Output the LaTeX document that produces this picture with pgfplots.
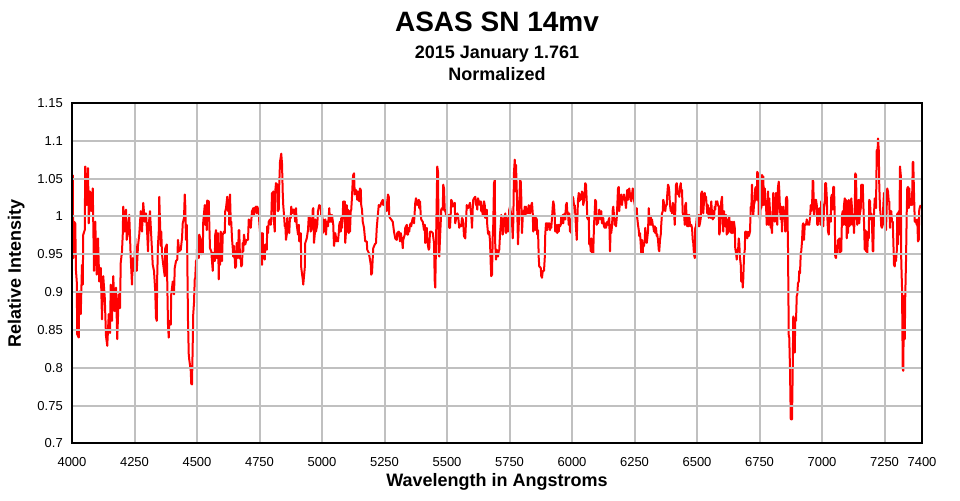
\documentclass[border=0pt]{standalone}
\usepackage{fontspec}
\setmainfont{Liberation Sans}
\usepackage{pgfplots}
\pgfplotsset{compat=1.18}
\definecolor{gridgray}{HTML}{C0C0C0}
\definecolor{specred}{HTML}{FF0000}

\begin{document}
\begin{tikzpicture}
% page size: 960 x 500 px at 0.75 pt per px
\useasboundingbox (-54pt,-42.4pt) rectangle (666pt,332.6pt);
\begin{axis}[
    scale only axis,
    width=637.5pt, height=255.4pt,
    xmin=4000, xmax=7400, ymin=0.7, ymax=1.15,
    xtick={4000,4250,4500,4750,5000,5250,5500,5750,6000,6250,6500,6750,7000,7250,7400},
    ytick={0.7,0.75,0.8,0.85,0.9,0.95,1,1.05,1.1,1.15},
    scaled x ticks=false, scaled y ticks=false,
    /pgf/number format/assume math mode=true,
    x tick label style={/pgf/number format/1000 sep={}, anchor=base, yshift=-16.9pt},
    y tick label style={/pgf/number format/.cd, fixed, precision=2, /tikz/.cd, anchor=east, inner sep=0pt, xshift=-6.75pt},
    ticklabel style={font=\fontsize{9.75pt}{11pt}\selectfont},
    major tick length=0pt,
    tick style={draw=none},
    grid=major,
    grid style={draw=gridgray, line width=1.5pt},
    axis line style={black, line width=1.5pt},
    axis on top,
    clip mode=individual,
]
\addplot[specred, line width=1.5pt, line join=round] coordinates {
(4003,1.055) (4005,0.945) (4008,0.993) (4013,0.991) (4016,0.928) (4019,0.914) (4021,0.844) (4027,0.840) (4029,0.901) (4035,0.871)
(4040,0.936) (4043,0.910) (4045,0.976) (4051,0.982) (4053,1.066) (4059,1.015) (4064,1.064) (4067,0.991) (4072,1.033) (4077,1.007)
(4083,1.037) (4085,0.993) (4088,0.928) (4093,0.993) (4099,0.923) (4104,0.971) (4109,0.914) (4115,0.932) (4120,0.864) (4125,0.921)
(4131,0.893) (4136,0.842) (4141,0.829) (4147,0.871) (4152,0.846) (4155,0.910) (4160,0.862) (4165,0.921) (4171,0.875) (4176,0.906)
(4181,0.838) (4187,0.897) (4192,0.879) (4195,0.939) (4200,0.954) (4203,0.976) (4205,1.013) (4211,0.980) (4216,1.009) (4219,0.969)
(4224,0.980) (4229,1.002) (4235,0.945) (4240,0.910) (4243,0.945) (4248,0.928) (4253,0.971) (4259,0.928) (4264,0.961) (4269,0.976)
(4275,1.007) (4280,0.980) (4285,1.018) (4291,0.993) (4296,1.004) (4301,0.976) (4304,0.954) (4307,0.989) (4312,1.007) (4317,0.974)
(4323,0.936) (4328,0.928) (4333,0.901) (4336,0.866) (4339,0.862) (4341,0.923) (4344,0.963) (4347,0.980) (4349,1.026) (4355,0.961)
(4357,0.980) (4360,0.950) (4365,0.936) (4371,0.921) (4373,0.958) (4379,0.963) (4381,0.914) (4384,0.857) (4387,0.840) (4389,0.862)
(4395,0.857) (4397,0.897) (4403,0.914) (4408,0.897) (4411,0.932) (4416,0.941) (4421,0.943) (4424,0.969) (4429,0.954) (4435,0.956)
(4440,0.971) (4443,0.991) (4448,0.998) (4451,1.029) (4453,1.015) (4456,0.969) (4459,0.989) (4461,0.950) (4464,0.862) (4467,0.818)
(4469,0.811) (4475,0.796) (4477,0.779) (4480,0.778) (4483,0.833) (4485,0.871) (4488,0.886) (4491,0.917) (4493,0.919) (4496,0.941)
(4499,0.943) (4501,0.971) (4507,0.945) (4509,0.976) (4515,0.969) (4517,0.950) (4523,0.952) (4525,0.993) (4531,1.015) (4533,0.989)
(4536,1.015) (4539,0.982) (4541,1.021) (4547,1.020) (4549,0.993) (4552,0.958) (4557,0.954) (4560,0.941) (4563,0.928) (4565,0.952)
(4571,0.941) (4573,0.976) (4576,0.982) (4579,0.945) (4581,0.967) (4584,0.978) (4587,0.917) (4589,0.954) (4592,0.936) (4595,0.980)
(4600,0.941) (4603,0.976) (4608,0.980) (4611,0.978) (4613,1.007) (4616,1.011) (4621,1.026) (4624,1.007) (4627,1.022) (4629,0.989)
(4632,1.029) (4635,0.993) (4637,0.993) (4640,0.971) (4643,0.958) (4645,0.947) (4648,0.961) (4653,0.932) (4656,0.934) (4659,0.965)
(4661,0.963) (4664,0.945) (4667,0.982) (4669,0.982) (4672,0.945) (4675,0.943) (4677,0.934) (4680,0.936) (4683,0.965) (4685,0.954)
(4688,0.976) (4693,0.963) (4696,0.967) (4699,0.969) (4704,0.969) (4707,0.996) (4712,0.993) (4715,0.985) (4720,1.007) (4723,1.009)
(4725,1.011) (4728,1.002) (4731,1.011) (4736,1.013) (4739,1.004) (4741,1.013) (4747,1.007) (4749,0.993) (4752,0.980) (4755,0.954)
(4757,0.978) (4760,0.936) (4763,0.978) (4765,0.945) (4768,0.958) (4771,0.943) (4773,0.963) (4779,0.956) (4781,0.987) (4784,0.978)
(4787,0.993) (4792,0.996) (4795,0.989) (4797,0.996) (4800,1.031) (4803,1.015) (4805,1.033) (4808,0.993) (4811,0.980) (4813,1.033)
(4816,1.044) (4821,1.042) (4824,1.007) (4827,1.009) (4829,1.042) (4832,1.072) (4837,1.083) (4840,1.070) (4843,1.031) (4845,1.015)
(4848,1.002) (4851,0.987) (4853,0.991) (4856,0.969) (4859,0.976) (4861,0.998) (4864,0.980) (4867,0.993) (4869,0.978) (4872,1.000)
(4875,0.998) (4877,1.013) (4880,1.004) (4883,1.009) (4888,1.009) (4893,0.993) (4896,1.011) (4899,0.989) (4904,0.976) (4907,0.989)
(4909,0.967) (4915,0.978) (4917,0.932) (4923,0.917) (4925,0.910) (4931,0.932) (4933,0.965) (4939,0.971) (4944,0.982) (4947,1.000)
(4952,0.998) (4955,0.980) (4960,0.987) (4963,1.009) (4965,1.011) (4968,0.965) (4971,0.976) (4973,0.996) (4976,0.980) (4981,0.989)
(4984,1.007) (4989,1.015) (4995,1.013) (4997,1.000) (5000,1.011) (5003,0.978) (5005,0.996) (5008,0.989) (5011,0.980) (5013,0.996)
(5016,0.976) (5019,0.993) (5024,0.987) (5027,1.000) (5029,1.011) (5032,0.993) (5035,1.002) (5037,0.993) (5040,1.002) (5045,0.989)
(5048,0.961) (5051,0.969) (5053,0.978) (5059,0.967) (5061,0.971) (5064,0.967) (5067,0.978) (5069,0.989) (5072,0.993) (5075,0.980)
(5077,0.998) (5080,0.985) (5083,1.002) (5085,1.020) (5088,1.007) (5091,1.020) (5093,0.965) (5096,0.980) (5099,1.015) (5101,0.980)
(5104,1.009) (5107,0.978) (5109,1.007) (5112,0.980) (5115,1.007) (5117,1.009) (5120,1.026) (5123,1.048) (5125,1.055) (5128,1.057)
(5131,1.029) (5133,1.031) (5136,1.035) (5139,1.029) (5141,1.022) (5144,1.033) (5147,1.029) (5149,1.020) (5152,1.037) (5155,1.035)
(5157,1.015) (5160,1.009) (5163,0.993) (5168,0.985) (5173,0.967) (5179,0.967) (5181,0.956) (5187,0.952) (5192,0.943) (5195,0.936)
(5197,0.923) (5200,0.925) (5203,0.945) (5205,0.958) (5211,0.963) (5216,0.965) (5219,0.985) (5224,1.004) (5227,1.015) (5232,1.013)
(5237,1.018) (5243,1.022) (5245,1.015) (5248,1.020) (5253,1.013) (5259,1.007) (5261,1.020) (5264,1.029) (5267,1.026) (5269,1.000)
(5272,0.998) (5277,0.996) (5283,0.993) (5288,0.980) (5293,0.971) (5299,0.969) (5301,0.978) (5307,0.980) (5312,0.967) (5315,0.978)
(5320,0.969) (5323,0.958) (5325,0.969) (5331,0.976) (5333,0.985) (5339,0.989) (5341,0.976) (5344,0.976) (5347,0.985) (5349,0.980)
(5352,0.989) (5355,0.991) (5357,0.987) (5360,0.993) (5363,0.998) (5368,0.991) (5373,1.018) (5376,1.024) (5381,1.015) (5387,1.022)
(5389,1.011) (5392,1.020) (5395,1.002) (5397,0.996) (5403,0.993) (5405,0.989) (5408,0.982) (5411,0.989) (5413,0.965) (5416,0.967)
(5419,0.985) (5421,0.971) (5424,0.961) (5427,0.956) (5429,0.958) (5432,0.980) (5437,0.980) (5443,0.978) (5448,0.965) (5451,0.914)
(5453,0.906) (5456,0.963) (5459,1.024) (5461,1.066) (5464,1.059) (5467,0.950) (5469,0.947) (5472,0.971) (5475,0.993) (5477,1.009)
(5480,1.011) (5483,1.009) (5485,1.042) (5488,1.037) (5491,1.007) (5493,1.009) (5496,1.002) (5499,1.007) (5501,0.996) (5504,0.993)
(5507,1.002) (5509,0.985) (5512,0.985) (5515,1.004) (5517,1.022) (5520,1.020) (5523,1.013) (5525,1.015) (5531,1.018) (5533,0.991)
(5539,1.002) (5541,1.004) (5544,1.002) (5549,0.985) (5552,0.989) (5557,0.987) (5560,0.998) (5563,0.996) (5565,0.991) (5568,0.974)
(5573,0.971) (5576,0.993) (5579,1.015) (5584,1.011) (5589,1.015) (5592,1.018) (5595,1.007) (5597,1.002) (5600,0.985) (5603,1.011)
(5605,1.022) (5608,1.024) (5613,1.026) (5616,1.015) (5619,1.015) (5621,1.009) (5624,1.024) (5627,1.020) (5629,1.020) (5632,1.015)
(5635,1.020) (5637,1.007) (5640,1.009) (5643,1.002) (5645,1.015) (5648,1.020) (5651,1.015) (5653,0.998) (5656,1.004) (5659,1.009)
(5661,0.989) (5664,0.978) (5667,0.976) (5669,0.980) (5672,0.967) (5675,0.936) (5677,0.921) (5680,0.923) (5683,0.974) (5685,0.989)
(5688,1.044) (5691,1.048) (5693,0.963) (5696,0.943) (5699,0.956) (5701,0.954) (5704,0.947) (5707,0.954) (5709,0.956) (5712,0.976)
(5715,0.989) (5717,1.002) (5720,0.996) (5723,0.976) (5725,0.980) (5728,0.998) (5731,0.989) (5733,1.004) (5736,0.978) (5739,0.998)
(5741,0.989) (5744,0.980) (5747,0.993) (5749,1.009) (5752,1.013) (5757,1.002) (5760,0.993) (5763,0.971) (5765,0.991) (5768,1.059)
(5771,1.075) (5773,1.033) (5776,1.068) (5779,1.035) (5781,1.007) (5784,0.963) (5787,0.989) (5789,1.015) (5792,1.048) (5795,1.046)
(5797,1.026) (5800,0.978) (5803,1.000) (5805,1.007) (5808,1.002) (5811,1.013) (5813,1.002) (5816,1.013) (5819,1.004) (5821,1.009)
(5824,1.004) (5827,1.015) (5829,1.007) (5832,1.004) (5835,1.009) (5837,1.015) (5840,1.018) (5843,1.004) (5845,0.980) (5848,0.993)
(5851,1.000) (5853,0.982) (5856,0.998) (5859,0.996) (5861,0.976) (5864,0.982) (5867,0.945) (5869,0.934) (5875,0.932) (5877,0.921)
(5880,0.919) (5883,0.928) (5888,0.928) (5891,0.945) (5893,0.976) (5896,0.991) (5899,0.991) (5901,0.982) (5904,0.991) (5907,0.987)
(5909,0.991) (5912,0.982) (5915,0.989) (5917,0.985) (5920,0.998) (5923,1.013) (5925,1.020) (5928,1.015) (5931,1.000) (5933,0.980)
(5936,0.989) (5939,0.982) (5941,0.978) (5944,0.989) (5947,0.980) (5949,0.989) (5952,0.987) (5955,0.989) (5957,1.000) (5960,0.991)
(5963,1.002) (5965,0.991) (5968,1.002) (5971,1.004) (5973,0.996) (5976,1.015) (5979,1.018) (5981,1.007) (5984,1.004) (5987,0.989)
(5989,1.004) (5992,0.980) (5995,0.996) (5997,0.978) (6000,0.993) (6003,1.026) (6005,1.024) (6008,1.015) (6011,1.015) (6013,1.004)
(6016,0.985) (6019,0.969) (6021,0.993) (6024,1.022) (6027,1.031) (6029,1.020) (6032,1.029) (6035,1.022) (6037,1.026) (6040,1.033)
(6043,1.029) (6045,1.015) (6048,1.020) (6051,1.033) (6053,1.044) (6056,1.042) (6059,1.020) (6061,0.998) (6064,0.996) (6067,1.000)
(6069,0.963) (6072,0.969) (6075,0.954) (6077,0.971) (6080,0.952) (6083,0.967) (6085,0.952) (6088,0.989) (6091,1.007) (6093,1.022)
(6096,1.020) (6099,0.989) (6101,0.993) (6104,0.991) (6107,1.000) (6109,1.009) (6112,1.002) (6115,0.996) (6117,1.007) (6120,0.991)
(6123,0.991) (6125,0.998) (6128,0.987) (6131,0.985) (6133,0.991) (6136,0.985) (6139,0.989) (6141,0.993) (6144,0.989) (6147,0.996)
(6149,0.998) (6152,0.954) (6155,0.989) (6157,0.978) (6160,0.987) (6163,1.009) (6165,1.013) (6168,1.002) (6171,0.989) (6173,0.996)
(6176,0.987) (6179,0.998) (6181,1.013) (6184,1.037) (6187,1.039) (6189,1.007) (6192,1.022) (6195,1.026) (6197,1.029) (6200,1.015)
(6203,1.026) (6205,1.022) (6208,1.029) (6211,1.024) (6213,1.020) (6216,1.011) (6219,1.026) (6221,1.035) (6224,1.022) (6227,1.035)
(6229,1.037) (6232,1.029) (6235,1.022) (6237,1.020) (6240,1.029) (6243,1.037) (6245,1.035) (6248,1.022) (6251,1.015) (6253,0.998)
(6256,1.007) (6259,1.011) (6261,0.998) (6264,0.989) (6267,0.982) (6269,0.974) (6272,0.978) (6275,0.963) (6277,0.952) (6280,0.969)
(6283,0.952) (6285,0.965) (6288,0.961) (6291,0.969) (6293,0.985) (6296,0.976) (6299,0.965) (6301,0.971) (6304,0.980) (6307,1.011)
(6309,0.998) (6312,0.989) (6315,1.000) (6317,0.989) (6320,0.996) (6323,0.989) (6325,0.987) (6328,0.980) (6331,0.987) (6333,0.978)
(6336,0.985) (6339,0.974) (6341,0.976) (6344,0.969) (6347,0.956) (6349,0.954) (6352,0.969) (6355,0.976) (6357,0.989) (6360,1.004)
(6363,1.007) (6365,1.022) (6368,1.018) (6371,1.011) (6373,1.007) (6376,1.015) (6379,1.015) (6381,1.029) (6384,1.042) (6387,1.039)
(6389,1.033) (6392,1.015) (6395,1.007) (6397,1.011) (6400,1.004) (6403,1.018) (6405,1.015) (6408,1.007) (6411,0.989) (6413,1.007)
(6416,1.042) (6419,1.044) (6421,1.037) (6424,1.029) (6427,1.033) (6429,1.026) (6432,1.039) (6435,1.044) (6437,1.033) (6440,1.035)
(6443,1.004) (6445,1.002) (6448,1.004) (6451,0.989) (6453,1.015) (6456,1.018) (6459,0.989) (6461,0.987) (6464,1.002) (6467,0.987)
(6469,1.002) (6472,0.989) (6475,0.987) (6477,0.989) (6480,0.985) (6483,0.969) (6485,0.965) (6488,0.950) (6491,0.945) (6493,0.985)
(6496,0.987) (6499,0.998) (6501,1.002) (6504,0.987) (6507,1.002) (6509,0.987) (6512,0.991) (6515,0.998) (6517,1.031) (6520,1.033)
(6523,1.029) (6525,1.004) (6528,1.020) (6531,1.031) (6533,1.026) (6536,1.026) (6539,1.013) (6541,1.004) (6544,1.015) (6547,0.998)
(6549,1.011) (6552,1.004) (6555,0.998) (6557,1.020) (6560,1.004) (6563,0.996) (6565,1.007) (6568,0.998) (6571,1.013) (6573,1.009)
(6576,1.020) (6579,1.018) (6581,1.020) (6584,1.015) (6587,1.013) (6589,0.976) (6592,0.980) (6595,1.011) (6597,1.020) (6600,1.026)
(6603,0.996) (6605,0.980) (6608,1.007) (6611,0.989) (6613,0.987) (6616,1.002) (6619,0.976) (6621,0.996) (6624,0.978) (6627,0.989)
(6629,1.000) (6632,0.980) (6635,0.993) (6637,0.978) (6640,0.993) (6643,0.978) (6645,0.989) (6648,0.993) (6651,0.985) (6653,0.958)
(6656,0.952) (6659,0.943) (6661,0.956) (6664,0.954) (6667,0.971) (6669,0.965) (6672,0.945) (6675,0.936) (6677,0.914) (6680,0.925)
(6683,0.906) (6685,0.917) (6688,0.947) (6691,0.956) (6693,0.980) (6696,0.980) (6699,0.978) (6701,0.971) (6704,0.980) (6707,0.974)
(6709,0.976) (6712,0.980) (6715,1.013) (6717,1.007) (6720,1.042) (6723,1.011) (6725,1.002) (6728,1.015) (6731,1.020) (6733,1.037)
(6736,1.039) (6739,1.022) (6741,1.059) (6744,1.057) (6747,1.000) (6749,1.007) (6752,0.996) (6755,1.015) (6757,1.011) (6760,1.055)
(6763,1.015) (6765,1.053) (6768,1.015) (6771,1.037) (6773,1.024) (6776,1.015) (6779,0.989) (6781,1.000) (6784,1.033) (6787,0.989)
(6789,1.024) (6792,1.007) (6795,0.985) (6797,0.989) (6800,0.978) (6803,1.007) (6805,1.031) (6808,1.015) (6811,0.993) (6813,1.011)
(6816,1.031) (6819,1.002) (6821,0.989) (6824,1.039) (6827,1.046) (6829,1.035) (6832,1.009) (6835,0.996) (6837,1.013) (6840,0.980)
(6843,1.004) (6845,1.013) (6848,1.000) (6851,1.004) (6853,0.980) (6856,1.024) (6859,1.026) (6861,1.022) (6864,0.958) (6867,0.842)
(6869,0.840) (6872,0.798) (6875,0.732) (6880,0.732) (6883,0.800) (6885,0.868) (6888,0.853) (6891,0.820) (6893,0.866) (6896,0.862)
(6899,0.895) (6901,0.897) (6904,0.912) (6907,0.914) (6909,0.928) (6912,0.925) (6915,0.952) (6917,0.954) (6920,0.967) (6923,0.989)
(6925,0.991) (6928,0.969) (6931,0.989) (6933,0.989) (6936,0.989) (6939,0.996) (6941,0.993) (6944,0.989) (6947,0.991) (6949,0.989)
(6952,0.998) (6955,1.015) (6957,1.007) (6960,1.011) (6963,1.048) (6965,1.046) (6968,1.002) (6971,1.013) (6973,1.022) (6976,1.022)
(6979,1.015) (6981,0.989) (6984,0.989) (6987,1.002) (6989,1.011) (6992,1.000) (6995,0.989) (6997,1.020) (7000,1.018) (7003,0.989)
(7005,0.987) (7008,1.009) (7011,1.020) (7013,1.044) (7016,1.044) (7019,1.026) (7021,1.002) (7024,0.980) (7027,0.976) (7029,0.993)
(7032,1.002) (7035,0.993) (7037,1.026) (7040,1.029) (7043,1.009) (7045,1.039) (7048,1.039) (7051,1.000) (7053,0.947) (7056,0.945)
(7059,0.961) (7061,0.952) (7064,0.969) (7067,0.958) (7069,0.971) (7072,0.952) (7075,0.971) (7077,0.954) (7080,1.002) (7083,1.007)
(7085,0.989) (7088,1.015) (7091,1.024) (7093,0.989) (7096,1.022) (7099,0.971) (7101,1.020) (7104,0.978) (7107,1.022) (7109,0.987)
(7112,1.007) (7115,0.989) (7117,1.024) (7120,1.011) (7123,0.989) (7125,1.002) (7128,0.978) (7131,1.004) (7133,1.057) (7136,1.055)
(7139,1.002) (7141,0.989) (7144,1.020) (7147,1.022) (7149,0.991) (7152,1.004) (7155,1.011) (7157,1.042) (7160,1.026) (7163,1.042)
(7165,1.018) (7168,0.993) (7171,0.956) (7173,0.982) (7176,0.954) (7179,0.980) (7181,0.952) (7184,0.976) (7187,0.971) (7189,1.022)
(7192,1.020) (7195,0.996) (7197,1.004) (7200,0.989) (7203,0.954) (7205,0.954) (7208,1.004) (7211,1.024) (7213,1.013) (7216,1.011)
(7219,1.088) (7221,1.072) (7224,1.103) (7227,1.088) (7229,1.042) (7232,1.011) (7235,1.000) (7237,0.987) (7240,0.985) (7243,0.989)
(7245,1.013) (7248,1.031) (7251,1.007) (7253,1.033) (7256,0.982) (7259,1.015) (7261,1.037) (7264,1.033) (7267,1.020) (7269,1.020)
(7272,0.985) (7275,1.007) (7277,1.007) (7280,0.993) (7283,0.993) (7285,0.971) (7288,0.936) (7291,0.934) (7293,0.950) (7296,0.941)
(7299,0.954) (7301,1.004) (7304,0.963) (7307,1.007) (7309,0.976) (7312,1.066) (7315,1.055) (7317,0.941) (7320,0.906) (7323,0.798)
(7325,0.796) (7328,0.895) (7331,0.838) (7333,0.895) (7336,0.941) (7339,1.007) (7341,1.037) (7344,1.039) (7347,1.011) (7349,1.037)
(7352,1.018) (7355,1.015) (7357,1.020) (7360,1.015) (7363,1.072) (7365,1.072) (7368,1.031) (7371,0.993) (7373,0.996) (7376,0.993)
(7379,0.989) (7381,0.996) (7384,0.967) (7387,0.969) (7389,1.009) (7392,1.013) (7395,1.015)
};
% titles and axis labels around the plot area
\node[anchor=base, font=\fontsize{21pt}{24pt}\selectfont\bfseries] at ([yshift=53.25pt]axis description cs:0.5,1) {ASAS SN 14mv};
\node[anchor=base, font=\fontsize{13.5pt}{16pt}\selectfont\bfseries] at ([yshift=33pt]axis description cs:0.5,1) {2015 January 1.761};
\node[anchor=base, font=\fontsize{13.5pt}{16pt}\selectfont\bfseries] at ([yshift=16.5pt]axis description cs:0.5,1) {Normalized};
\node[anchor=base, font=\fontsize{13.5pt}{16pt}\selectfont\bfseries] at ([yshift=-32.6pt]axis description cs:0.5,0) {Wavelength in Angstroms};
\node[anchor=base, rotate=90, font=\fontsize{13.5pt}{16pt}\selectfont\bfseries] at ([xshift=-38.25pt]axis description cs:0,0.5) {Relative Intensity};
\end{axis}
\end{tikzpicture}
\end{document}
